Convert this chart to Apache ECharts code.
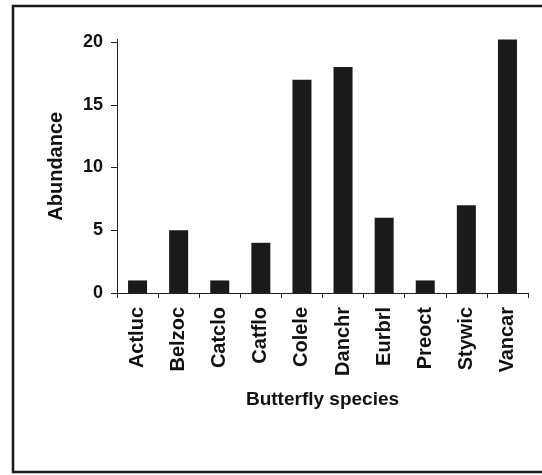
<!DOCTYPE html>
<html>
<head>
<meta charset="utf-8">
<script src="https://cdn.jsdelivr.net/npm/echarts@6/dist/echarts.min.js"></script>
<style>
	html, body { margin: 0; padding: 0; background: #fff; }
	#main { width: 542px; height: 475px; }
</style>
</head>
<body>
<div id="main"></div>
<script>
// 物种与丰度
var species = ['Actluc', 'Belzoc', 'Catclo', 'Catflo', 'Colele', 'Danchr', 'Eurbrl', 'Preoct', 'Stywic', 'Vancar'];
var abundance = [1, 5, 1, 4, 17, 18, 6, 1, 7, 20.2];
var yTicks = [0, 5, 10, 15, 20];

var font = 'Liberation Sans, Arial, sans-serif';
var myChart = echarts.init(document.getElementById('main'));

myChart.setOption({
	backgroundColor: '#fff',
	animation: false,
	// 外框
	graphic: [
		{
			type: 'rect',
			shape: { x: 13, y: 6, width: 560, height: 466 },
			style: { fill: 'none', stroke: '#1a1a1a', lineWidth: 2.5 }
		}
	],
	grid: {
		left: 117,
		right: 14,
		top: 39.5,
		bottom: 182,
		outerBoundsMode: 'none'
	},
	xAxis: {
		type: 'category',
		data: species,
		name: 'Butterfly species',
		nameLocation: 'middle',
		nameGap: 97,
		nameTextStyle: { color: '#111', fontFamily: font, fontWeight: 'bold', fontSize: 19 },
		axisLine: { lineStyle: { color: '#222', width: 1 } },
		axisTick: { show: true, length: 5, lineStyle: { color: '#222' } },
		axisLabel: {
			rotate: 90,
			interval: 0,
			margin: 14,
			color: '#111',
			fontFamily: font,
			fontWeight: 'bold',
			fontSize: 20
		}
	},
	yAxis: {
		type: 'value',
		min: 0,
		max: 20.2,
		name: 'Abundance',
		nameLocation: 'middle',
		nameGap: 51,
		nameRotate: 90,
		nameTextStyle: { color: '#111', fontFamily: font, fontWeight: 'bold', fontSize: 20 },
		splitLine: { show: false },
		axisLine: { show: true, lineStyle: { color: '#222', width: 1 } },
		axisTick: { show: true, length: 6, customValues: yTicks, lineStyle: { color: '#222' } },
		axisLabel: {
			customValues: yTicks,
			margin: 14,
			color: '#111',
			fontFamily: font,
			fontWeight: 'bold',
			fontSize: 18
		}
	},
	series: [
		{
			type: 'bar',
			data: abundance,
			barWidth: 19,
			itemStyle: { color: '#1a1a1a' }
		}
	]
});
</script>
</body>
</html>
